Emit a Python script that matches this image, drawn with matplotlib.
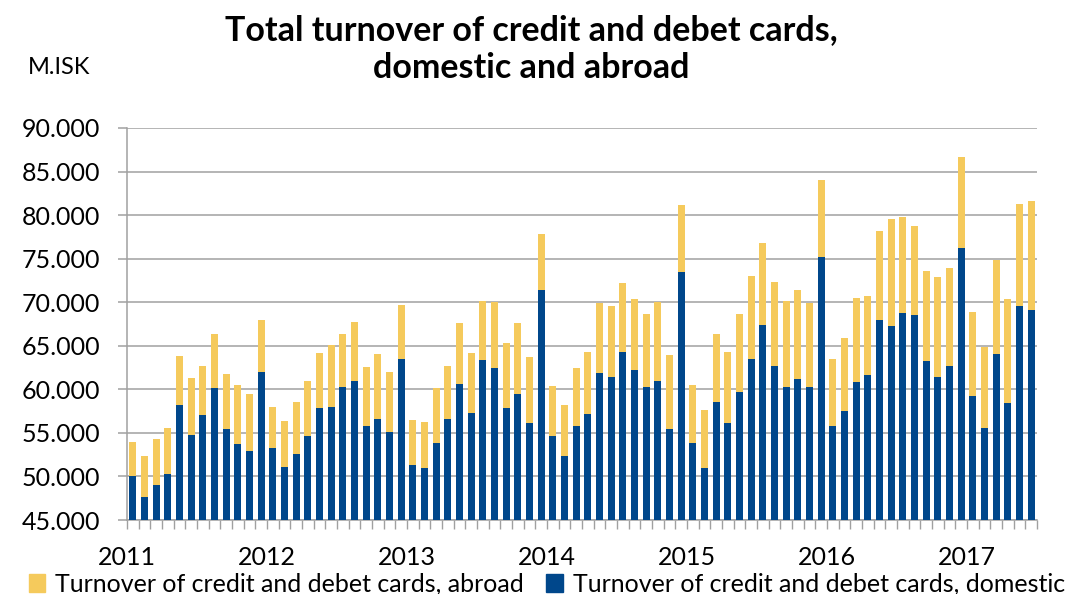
import numpy as np
import matplotlib
matplotlib.use("Agg")
import matplotlib.pyplot as plt
from matplotlib.ticker import FuncFormatter

plt.rcParams['font.family'] = ['Lato', 'DejaVu Sans']

# monthly totals (M.ISK), Jan 2011 - Jun 2017
total = [54.0, 52.3, 54.3, 55.6, 63.8, 61.3, 62.7, 66.4, 61.8, 60.5, 59.5, 68.0,
         58.0, 56.4, 58.5, 60.9, 64.2, 65.1, 66.4, 67.7, 62.6, 64.0, 62.0, 69.7,
         56.5, 56.2, 60.1, 62.7, 67.6, 64.2, 70.1, 70.0, 65.3, 67.6, 63.7, 77.8,
         60.4, 58.2, 62.5, 64.3, 69.9, 69.6, 72.2, 70.4, 68.7, 70.0, 63.9, 81.2,
         60.5, 57.6, 66.4, 64.3, 68.7, 73.0, 76.8, 72.3, 70.1, 71.4, 69.9, 84.0,
         63.5, 65.9, 70.5, 70.7, 78.2, 79.5, 79.8, 78.7, 73.6, 72.9, 73.9, 86.7,
         68.9, 64.9, 74.8, 70.4, 81.3, 81.6]
domestic = [50.1, 47.6, 49.0, 50.3, 58.2, 54.8, 57.0, 60.1, 55.5, 53.7, 52.9, 62.0,
            53.3, 51.1, 52.6, 54.7, 57.8, 58.0, 60.3, 61.0, 55.8, 56.6, 55.1, 63.5,
            51.3, 51.0, 53.8, 56.6, 60.6, 57.3, 63.4, 62.5, 57.8, 59.5, 56.1, 71.4,
            54.6, 52.4, 55.8, 57.2, 61.9, 61.4, 64.3, 62.2, 60.3, 61.0, 55.5, 73.5,
            53.8, 51.0, 58.5, 56.1, 59.7, 63.5, 67.4, 62.7, 60.3, 61.2, 60.3, 75.2,
            55.8, 57.5, 60.8, 61.6, 68.0, 67.3, 68.8, 68.5, 63.2, 61.4, 62.7, 76.2,
            59.2, 55.6, 64.0, 58.4, 69.6, 69.1]
years = ['2011', '2012', '2013', '2014', '2015', '2016', '2017']

dom = np.array(domestic) * 1000
abroad = np.array(total) * 1000 - dom
x = np.arange(len(dom))

blue = '#00478B'
yellow = '#F5CA5C'
grid_c = '#A0A0A0'

fig = plt.figure(figsize=(10.66, 5.94), dpi=100)
ax = fig.add_axes([127/1066, 1 - 520/594, (1037 - 127)/1066, (520 - 128)/594])

ax.bar(x, dom, width=0.58, color=blue, zorder=3)
ax.bar(x, abroad, width=0.58, bottom=dom, color=yellow, zorder=3)

ax.set_xlim(-0.5, len(dom) - 0.5)
ax.set_ylim(45000, 90000)
ax.set_yticks(np.arange(45000, 90001, 5000))
ax.yaxis.set_major_formatter(FuncFormatter(lambda v, p: f'{int(v):,}'.replace(',', '.')))
ax.grid(axis='y', color=grid_c, linewidth=1.1, zorder=0)

ax.set_xticks([12 * i - 0.5 for i in range(len(years))])
ax.set_xticklabels(years)
ax.set_xticks(np.arange(-0.5, len(dom), 1), minor=True)
ax.tick_params(axis='x', which='both', length=6.5, color=grid_c, width=1)
ax.tick_params(axis='x', which='major', pad=12, labelsize=18)
ax.tick_params(axis='y', length=6.5, color=grid_c, width=1.1, pad=13, labelsize=18)

for s in ['top', 'right']:
    ax.spines[s].set_visible(False)
for s in ['left', 'bottom']:
    ax.spines[s].set_color(grid_c)
    ax.spines[s].set_linewidth(1.1)

fig.text(531/1066, 1 - 49/594, 'Total turnover of credit and debet cards,\ndomestic and abroad',
         ha='center', va='center', fontsize=24.5, fontweight='bold', linespacing=1.2)
fig.text(28/1066, 1 - 68/594, 'M.ISK', ha='left', va='center', fontsize=17)

h1 = plt.Rectangle((0, 0), 1, 1, color=yellow)
h2 = plt.Rectangle((0, 0), 1, 1, color=blue)
fig.legend([h1, h2], ['Turnover of credit and debet cards, abroad',
                      'Turnover of credit and debet cards, domestic'],
           loc='center', bbox_to_anchor=(0.513, 1 - 584/594), ncol=2, frameon=False,
           fontsize=18, handlelength=0.65, handleheight=0.7, handletextpad=0.4,
           columnspacing=0.9, borderaxespad=0, borderpad=0)

fig.savefig('out.png', dpi=100)
